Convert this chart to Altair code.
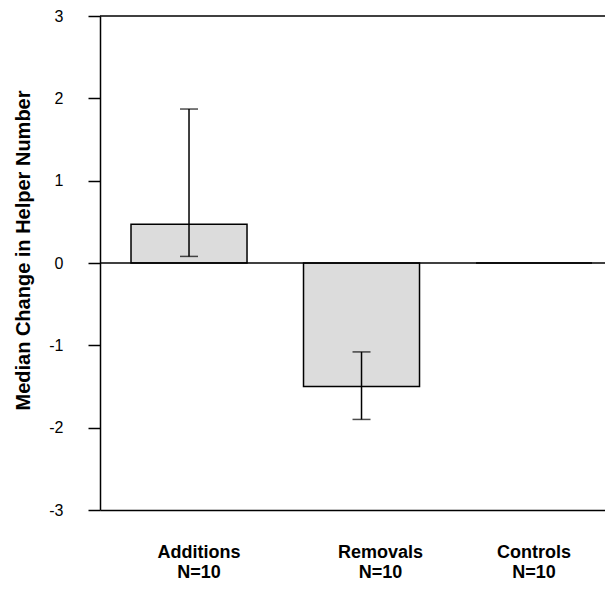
import altair as alt
import pandas as pd

groups = ["Additions", "Removals", "Controls"]
sample_sizes = [10, 10, 10]
medians = [0.47, -1.50, 0.0]
err_low = [0.08, -1.90]
err_high = [1.87, -1.08]
y_ticks = [-3, -2, -1, 0, 1, 2, 3]
y_title = "Median Change in Helper Number"

labels = [f"{g}\nN={n}" for g, n in zip(groups, sample_sizes)]
bars = pd.DataFrame({"group": labels, "median": medians})
errs = pd.DataFrame({"group": labels[:2], "lo": err_low, "hi": err_high})

FONT = "Liberation Sans"

xscale = alt.Scale(domain=labels, paddingInner=0.3275, paddingOuter=0.1275, align=0.705)
yscale = alt.Scale(domain=[-3, 3], nice=False, zero=False)

xaxis = alt.Axis(
    title=None,
    ticks=False,
    domain=True,
    domainColor="black",
    domainWidth=1.5,
    labelExpr="split(datum.label, '\\n')",
    labelFont=FONT,
    labelFontSize=18,
    labelFontWeight="bold",
    labelColor="black",
    labelPadding=33,
    labelBaseline="top",
    labelLineHeight=20,
    labelAngle=0,
    labelOffset={
        "condition": [
            {"test": "indexof(datum.label, 'Additions') == 0", "value": 10},
            {"test": "indexof(datum.label, 'Removals') == 0", "value": 19},
        ],
        "value": 0,
    },
    grid=False,
)

yaxis = alt.Axis(
    values=y_ticks,
    labelExpr="'' + datum.value",
    tickSize=12,
    tickWidth=1.5,
    tickColor="black",
    domainColor="black",
    domainWidth=1.5,
    labelFont=FONT,
    labelFontSize=16,
    labelColor="black",
    labelPadding=25,
    grid=False,
    title=y_title,
    titleFont=FONT,
    titleFontSize=20,
    titleFontWeight="bold",
    titleColor="black",
    titleAngle=270,
    titleX=-77,
    titleY=234,
    titleAlign="center",
    titleBaseline="middle",
)

X = alt.X("group:N", scale=xscale, sort=labels, axis=xaxis)

bar_layer = alt.Chart(bars).mark_bar(
    fill="#dcdcdc", stroke="black", strokeWidth=1.5
).encode(
    x=X,
    y=alt.Y("median:Q", scale=yscale, axis=yaxis),
    y2=alt.Y2Datum(0),
)

rules = alt.Chart(pd.DataFrame({"v": [0, 3]})).mark_rule(
    color="black", strokeWidth=1.5
).encode(y=alt.Y("v:Q", scale=yscale, axis=yaxis))

err_rule = alt.Chart(errs).mark_rule(color="black", strokeWidth=1.5).encode(
    x=X,
    y=alt.Y("lo:Q", scale=yscale, axis=yaxis),
    y2="hi:Q",
)
cap_lo = alt.Chart(errs).mark_tick(color="black", thickness=1.5, size=18).encode(
    x=X, y=alt.Y("lo:Q", scale=yscale, axis=yaxis)
)
cap_hi = alt.Chart(errs).mark_tick(color="black", thickness=1.5, size=18).encode(
    x=X, y=alt.Y("hi:Q", scale=yscale, axis=yaxis)
)

chart = alt.layer(bar_layer, rules, err_rule, cap_lo, cap_hi).properties(
    width=505,
    height=494,
    autosize=alt.AutoSizeParams(type="none"),
    padding={"left": 92, "top": 8, "right": 0, "bottom": 70},
    background="white",
).configure_view(stroke=None)

chart.save("out.html", embed_options={"renderer": "svg", "actions": False})
